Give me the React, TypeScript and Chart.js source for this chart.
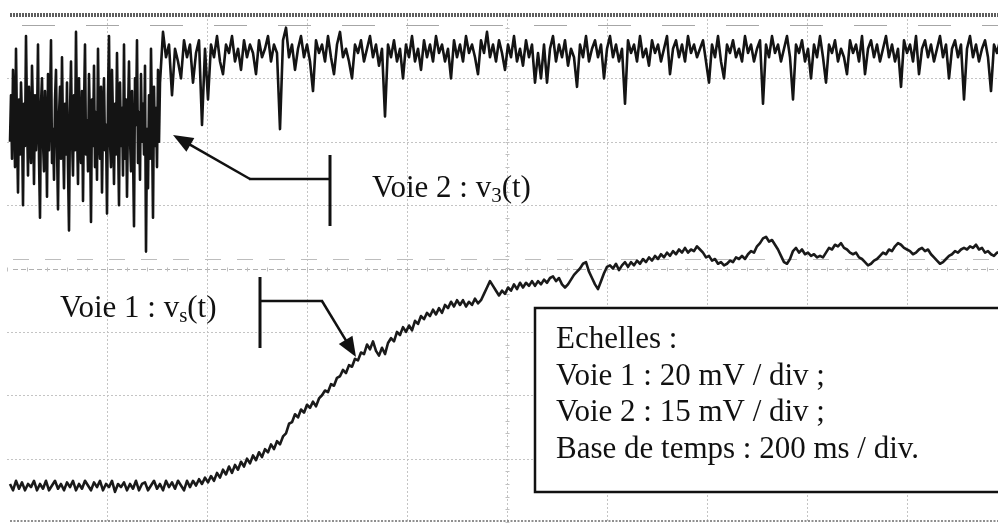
import React, { useEffect, useRef } from 'react';
import { Chart, registerables } from 'chart.js';

Chart.register(...registerables);

// Oscilloscope time base: 200 ms / div
const MS_PER_DIV = 200;
const VISIBLE_TIME_MS = 1982;
const HALF_DIVS = 4;
const VOIE1_MV_PER_DIV = 20;
const VOIE2_MV_PER_DIV = 15;

// Voie 1 sampling
const VS_START_MS = 6;
const VS_STEP_MS = 6;
// Voie 2 sampling: fine acquisition during the initial burst, then normal rate
const V3_BURST_START_MS = 6;
const V3_BURST_STEP_MS = 2;
const V3_STEADY_START_MS = 312;
const V3_STEADY_STEP_MS = 6;

// Voie 1 : vs(t), in mV
const vsValues = [
  -68,-70,-67,-69.5,-67.5,-70,-68,-69,-67,-70,
  -68,-69.5,-67,-70,-68.5,-67,-69.5,-68,-70,-67.5,
  -69,-67,-70,-68,-69.5,-67,-68.5,-70,-67.5,-69,
  -67,-70,-68,-69,-67,-70.5,-68,-69,-67.5,-70,
  -68,-69.5,-67,-70,-68,-67.5,-70,-68.5,-67,-69.5,
  -68,-70,-67,-69,-67.5,-69.5,-67,-68.5,-70,-67,
  -69,-67,-68.5,-66.5,-68,-66,-67.5,-65.5,-67,-64.5,
  -66,-63.5,-65,-62.5,-64.5,-62,-63.5,-61,-62.5,-60,
  -61.5,-59,-60.5,-58,-59.5,-57,-58,-55.5,-57,-54.5,
  -55.5,-53,-52,-49,-48.5,-46,-47,-44.5,-45.5,-43,
  -44,-42,-43.5,-41,-40,-38.5,-39,-36.5,-37,-34.5,
  -34,-32,-33,-30.5,-31,-28.5,-29,-26.5,-27,-24,
  -25.5,-23,-26,-27.5,-25,-27,-23.5,-22,-23,-20,
  -21,-18.5,-20,-18,-19.5,-16.5,-17.5,-15,-16,-14,
  -15,-13,-14.5,-12.5,-14,-11.5,-12.5,-10.5,-12,-10,
  -11.5,-10,-12,-10.5,-11.5,-9.5,-11,-10,-8,-6,
  -4,-5.5,-7,-8.5,-7,-8,-6,-7,-5,-6.5,
  -4.5,-6,-4.5,-5.5,-4,-5.5,-4,-5,-3.5,-4.5,
  -3,-2.5,-4,-3,-5,-6,-5,-3.5,-2,-1,
  0,1.5,2,-1,-3,-5,-6.5,-4,-1.5,0.5,
  1,0,1.5,-0.5,1,2,0.5,2,1,2.5,
  1.5,3,2,3.5,2.5,4,3,4.5,3.5,5,
  4,5.5,4.5,6,5,6.5,5,6,5.5,7,
  6,5,3.5,4,2.5,3,1.5,2,1,1.5,
  2.5,2,3.5,3,4,3,4.5,5.5,5,7,
  8,9.5,10,8.5,9,7.5,6,4,2,1.5,
  3,5.5,6.5,5,6,4.5,5,4,4.5,3.5,
  4,3.5,5,6.5,6,7.5,7,8,6.5,6,
  5,4.5,5,3.5,3,2,1,1.5,2.5,3,
  4,5,4.5,6,5.5,7,8,7.5,6.5,6,
  5.5,4.5,5,6,6.5,5.5,6,4.5,3.5,2.5,
  1.5,2,3,4,4.5,5.5,5,6,6.5,6,
  7,6.5,7.5,6,6.5,5,5.5,4.5,4,5,
  5,
];

// Voie 2 : v3(t), in mV — initial noisy burst (2 ms samples)
const v3BurstValues = [
  30,41,26,47,38,24,52,33,18,40,
  27,44,35,15,39,29,55,36,22,43,
  31,25,48,37,20,41,28,34,53,26,
  12,39,45,30,23,42,35,17,46,28,
  38,54,25,33,21,40,47,29,14,36,
  43,26,50,32,19,39,27,44,24,9,
  37,49,31,22,41,28,56,34,20,45,
  30,25,42,16,38,53,27,35,23,46,
  33,11,40,29,48,24,37,21,52,31,
  26,43,18,36,45,28,34,13,41,55,
  30,24,47,35,20,39,27,51,32,15,
  44,29,38,22,53,26,40,17,36,49,
  31,23,42,28,10,45,34,54,25,37,
  21,46,30,39,27,48,4,33,19,41,
  26,52,35,12,43,29,38,24,47,30,
  44,
];

// Voie 2 : v3(t), in mV — after the burst (6 ms samples)
const v3SteadyValues = [
  56,50,53,41,52,49,45,54,50,
  53,44,51,54,34,52,40,53,50,55,
  49,46,53,51,55,49,52,47,54,50,
  53,51,46,54,50,52,55,49,53,51,
  33,54,57,50,53,47,52,55,50,53,
  49,42,54,51,53,49,55,50,46,53,
  56,50,52,49,45,53,51,54,49,52,
  55,50,53,48,52,36,53,50,54,49,
  52,45,53,50,55,49,52,47,54,50,
  53,49,55,51,53,49,52,45,54,50,
  53,49,55,51,53,50,46,54,51,56,
  50,53,49,54,51,47,53,50,55,49,
  52,48,54,50,53,44,51,45,53,44,
  52,55,49,53,50,54,48,52,50,43,
  53,50,55,49,52,54,50,53,45,52,
  55,50,53,49,52,39,54,51,53,49,
  55,50,52,48,54,51,53,49,52,55,
  46,52,54,50,53,49,55,51,53,50,
  52,54,49,44,53,50,55,49,45,53,
  51,54,50,52,49,55,51,53,49,52,
  54,39,53,50,55,51,53,49,52,55,
  50,40,53,51,54,49,52,45,53,50,
  55,50,44,53,51,54,49,52,50,46,
  54,51,53,49,55,46,52,54,50,53,
  49,52,55,50,53,49,52,43,54,51,
  53,49,55,46,52,54,50,53,49,52,
  55,50,53,45,52,54,50,53,40,52,
  55,50,53,49,52,54,50,42,53,51,
  54,
];

const toPoints = (values: number[], start: number, step: number) =>
  values.map((v, i) => ({ x: start + i * step, y: v }));

const FONT = '"Liberation Serif", "Times New Roman", serif';

function line(ctx: CanvasRenderingContext2D, x1: number, y1: number, x2: number, y2: number) {
  ctx.beginPath();
  ctx.moveTo(x1, y1);
  ctx.lineTo(x2, y2);
  ctx.stroke();
}

function arrow(ctx: CanvasRenderingContext2D, x1: number, y1: number, x2: number, y2: number) {
  const dx = x2 - x1, dy = y2 - y1;
  const len = Math.hypot(dx, dy);
  const ux = dx / len, uy = dy / len;
  const head = 20, half = 8;
  const bx = x2 - ux * head, by = y2 - uy * head;
  line(ctx, x1, y1, bx + ux * 2, by + uy * 2);
  ctx.beginPath();
  ctx.moveTo(x2, y2);
  ctx.lineTo(bx - uy * half, by + ux * half);
  ctx.lineTo(bx + uy * half, by - ux * half);
  ctx.closePath();
  ctx.fill();
}

function subText(ctx: CanvasRenderingContext2D, x: number, y: number, main: string, sub: string, tail: string) {
  ctx.font = `31px ${FONT}`;
  ctx.fillText(main, x, y);
  let cx = x + ctx.measureText(main).width;
  ctx.font = `21px ${FONT}`;
  ctx.fillText(sub, cx, y + 5);
  cx += ctx.measureText(sub).width;
  ctx.font = `31px ${FONT}`;
  ctx.fillText(tail, cx, y);
}

const scopePlugin = {
  id: 'scopeScreen',
  beforeDatasetsDraw(chart: any) {
    const { ctx, chartArea: a, scales } = chart;
    const x = scales.x, y = scales.y;
    ctx.save();
    ctx.lineWidth = 1;
    ctx.strokeStyle = '#c4c4c4';
    ctx.setLineDash([2, 2]);
    for (let t = MS_PER_DIV; t < x.max; t += MS_PER_DIV) {
      const px = Math.round(x.getPixelForValue(t)) + 0.5;
      line(ctx, px, a.top, px, a.bottom);
    }
    for (let d = -HALF_DIVS + 1; d < HALF_DIVS; d++) {
      if (d === 0) continue;
      const py = Math.round(y.getPixelForValue(d)) + 0.5;
      line(ctx, a.left, py, a.right, py);
    }
    // central axes
    const cy = Math.round(y.getPixelForValue(0)) + 0.5;
    const cx = Math.round(x.getPixelForValue(5 * MS_PER_DIV)) + 0.5;
    ctx.strokeStyle = '#b0b0b0';
    ctx.setLineDash([5, 3]);
    line(ctx, a.left + 6, cy, a.right, cy);
    ctx.setLineDash([]);
    ctx.strokeStyle = '#c0c0c0';
    for (let t = 0; t < x.max; t += MS_PER_DIV / 5) {
      const px = Math.round(x.getPixelForValue(t)) + 0.5;
      line(ctx, px, cy - 2, px, cy + 2);
    }
    for (let d = -HALF_DIVS; d <= HALF_DIVS; d += 0.2) {
      const py = Math.round(y.getPixelForValue(d)) + 0.5;
      line(ctx, cx - 2, py, cx + 2, py);
    }
    // graticule dash rows
    ctx.strokeStyle = '#a6a6a6';
    ctx.lineWidth = 1;
    ctx.setLineDash([33, 31]);
    ctx.lineDashOffset = -15;
    line(ctx, a.left, a.top + 10.5, a.right, a.top + 10.5);
    ctx.strokeStyle = '#bdbdbd';
    ctx.setLineDash([16, 16]);
    ctx.lineDashOffset = -6;
    line(ctx, a.left, cy - 10, a.right, cy - 10);
    ctx.lineDashOffset = 0;
    // top border
    ctx.strokeStyle = '#5e5e5e';
    ctx.lineWidth = 4;
    ctx.setLineDash([2, 1]);
    line(ctx, a.left + 3, a.top, a.right, a.top);
    // bottom border
    ctx.strokeStyle = '#8f8f8f';
    ctx.lineWidth = 2;
    ctx.setLineDash([2, 1.5]);
    line(ctx, a.left + 3, a.bottom - 1, a.right, a.bottom - 1);
    ctx.restore();
  },
  afterDraw(chart: any) {
    const { ctx } = chart;
    ctx.save();
    ctx.fillStyle = '#111';
    ctx.strokeStyle = '#111';
    ctx.lineCap = 'butt';
    ctx.textBaseline = 'alphabetic';

    // Voie 2 label and pointer
    subText(ctx, 372, 197, 'Voie 2 : v', '3', '(t)');
    ctx.lineWidth = 3;
    line(ctx, 330, 155, 330, 226);
    ctx.lineWidth = 2.5;
    line(ctx, 331, 179, 249, 179);
    arrow(ctx, 250, 179, 173, 135);

    // Voie 1 label and pointer
    subText(ctx, 60, 317, 'Voie 1 : v', 's', '(t)');
    ctx.lineWidth = 3;
    line(ctx, 260, 277, 260, 348);
    ctx.lineWidth = 2.5;
    line(ctx, 259, 301, 323, 301);
    arrow(ctx, 322, 301, 356, 357);

    // scales box
    ctx.fillStyle = '#fff';
    ctx.fillRect(535, 308, 480, 184);
    ctx.lineWidth = 2.5;
    ctx.strokeRect(535, 308, 480, 184);
    ctx.fillStyle = '#111';
    ctx.font = `31px ${FONT}`;
    const lines = ['Echelles :', 'Voie 1 : 20 mV / div ;', 'Voie 2 : 15 mV / div ;', 'Base de temps : 200 ms / div.'];
    lines.forEach((s, i) => ctx.fillText(s, 556, 348 + i * 36.7));
    ctx.restore();
  },
};

export default function App() {
  const ref = useRef<HTMLCanvasElement | null>(null);
  useEffect(() => {
    document.body.style.margin = '0';
    document.body.style.background = '#fff';
    const canvas = ref.current;
    if (!canvas) return;
    const v3Points = [
      ...toPoints(v3BurstValues, V3_BURST_START_MS, V3_BURST_STEP_MS),
      ...toPoints(v3SteadyValues, V3_STEADY_START_MS, V3_STEADY_STEP_MS),
    ];
    const chart = new Chart(canvas, {
      type: 'line',
      data: {
        datasets: [
          {
            label: 'Voie 1 : vs(t)',
            data: toPoints(vsValues, VS_START_MS, VS_STEP_MS),
            yAxisID: 'y1',
            borderColor: '#1a1a1a',
            borderWidth: 2.6,
            pointRadius: 0,
            tension: 0,
            borderJoinStyle: 'round',
          },
          {
            label: 'Voie 2 : v3(t)',
            data: v3Points,
            yAxisID: 'y2',
            borderColor: '#141414',
            borderWidth: 2.6,
            pointRadius: 0,
            tension: 0,
            borderJoinStyle: 'round',
          },
        ],
      },
      options: {
        animation: false,
        responsive: false,
        maintainAspectRatio: false,
        layout: { padding: { left: 7, top: 15, right: 0, bottom: 3 } },
        plugins: { legend: { display: false }, tooltip: { enabled: false } },
        scales: {
          x: { type: 'linear', display: false, min: 0, max: VISIBLE_TIME_MS },
          y: { type: 'linear', display: false, min: -HALF_DIVS, max: HALF_DIVS },
          y1: { type: 'linear', display: false, min: -HALF_DIVS * VOIE1_MV_PER_DIV, max: HALF_DIVS * VOIE1_MV_PER_DIV },
          y2: { type: 'linear', display: false, min: -HALF_DIVS * VOIE2_MV_PER_DIV, max: HALF_DIVS * VOIE2_MV_PER_DIV },
        },
      } as any,
      plugins: [scopePlugin],
    });
    return () => chart.destroy();
  }, []);
  return (
    <div style={{ width: 998, height: 525, background: '#fff' }}>
      <canvas ref={ref} width={998} height={525} style={{ display: 'block' }} />
    </div>
  );
}
